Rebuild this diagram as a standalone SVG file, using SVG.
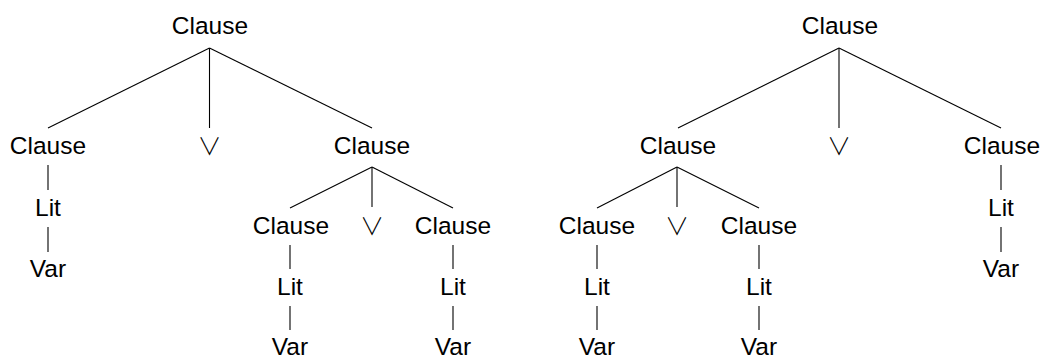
<svg xmlns="http://www.w3.org/2000/svg" width="1042" height="356" viewBox="0 0 1042 356">
<style>
text{font-family:"Liberation Sans","DejaVu Sans",sans-serif;font-size:24.5px;fill:#000;text-anchor:middle}
.or{font-family:"Noto Sans CJK JP","DejaVu Sans",sans-serif;font-size:24px;font-weight:300}
#edges line{stroke:#000;stroke-width:1.1}
</style>
<rect width="1042" height="356" fill="#fff"/>
<g id="edges">
<line x1="209.5" y1="48" x2="48" y2="128"/>
<line x1="209.5" y1="48" x2="209.5" y2="128"/>
<line x1="209.5" y1="48" x2="372" y2="128"/>
<line x1="48" y1="165" x2="48" y2="190"/>
<line x1="48" y1="227" x2="48" y2="252"/>
<line x1="372" y1="167" x2="290" y2="208"/>
<line x1="372" y1="167" x2="372" y2="207"/>
<line x1="372" y1="167" x2="453" y2="208"/>
<line x1="290" y1="245" x2="290" y2="269"/>
<line x1="290" y1="306" x2="290" y2="330"/>
<line x1="453" y1="245" x2="453" y2="269"/>
<line x1="453" y1="306" x2="453" y2="330"/>
<line x1="839" y1="48" x2="678" y2="128"/>
<line x1="839" y1="48" x2="839" y2="128"/>
<line x1="839" y1="48" x2="1001" y2="128"/>
<line x1="677" y1="167" x2="597" y2="208"/>
<line x1="677" y1="167" x2="677" y2="207"/>
<line x1="677" y1="167" x2="759" y2="208"/>
<line x1="597" y1="245" x2="597" y2="269"/>
<line x1="597" y1="306" x2="597" y2="330"/>
<line x1="759" y1="245" x2="759" y2="269"/>
<line x1="759" y1="306" x2="759" y2="330"/>
<line x1="1001" y1="165" x2="1001" y2="190"/>
<line x1="1001" y1="227" x2="1001" y2="252"/>
</g>
<g id="L_root"><text x="210" y="34">Clause</text></g>
<g id="L_c1"><text x="48" y="154">Clause</text></g>
<g id="L_or"><text class="or" x="209.5" y="155">∨</text></g>
<g id="L_c2"><text x="372" y="154">Clause</text></g>
<g id="L_c1_lit"><text x="48" y="216">Lit</text></g>
<g id="L_c1_var"><text x="48" y="277">Var</text></g>
<g id="L_c2a"><text x="291" y="234">Clause</text></g>
<g id="L_c2_or"><text class="or" x="372" y="235">∨</text></g>
<g id="L_c2b"><text x="453" y="234">Clause</text></g>
<g id="L_c2a_lit"><text x="290" y="295">Lit</text></g>
<g id="L_c2a_var"><text x="290" y="355">Var</text></g>
<g id="L_c2b_lit"><text x="453" y="295">Lit</text></g>
<g id="L_c2b_var"><text x="453" y="355">Var</text></g>
<g id="R_root"><text x="840" y="34">Clause</text></g>
<g id="R_c1"><text x="678" y="154">Clause</text></g>
<g id="R_or"><text class="or" x="839" y="155">∨</text></g>
<g id="R_c2"><text x="1002" y="154">Clause</text></g>
<g id="R_c1a"><text x="597" y="234">Clause</text></g>
<g id="R_c1_or"><text class="or" x="677" y="235">∨</text></g>
<g id="R_c1b"><text x="759" y="234">Clause</text></g>
<g id="R_c1a_lit"><text x="597" y="295">Lit</text></g>
<g id="R_c1a_var"><text x="597" y="355">Var</text></g>
<g id="R_c1b_lit"><text x="759" y="295">Lit</text></g>
<g id="R_c1b_var"><text x="759" y="355">Var</text></g>
<g id="R_c2_lit"><text x="1001" y="216">Lit</text></g>
<g id="R_c2_var"><text x="1001" y="277">Var</text></g>
</svg>
